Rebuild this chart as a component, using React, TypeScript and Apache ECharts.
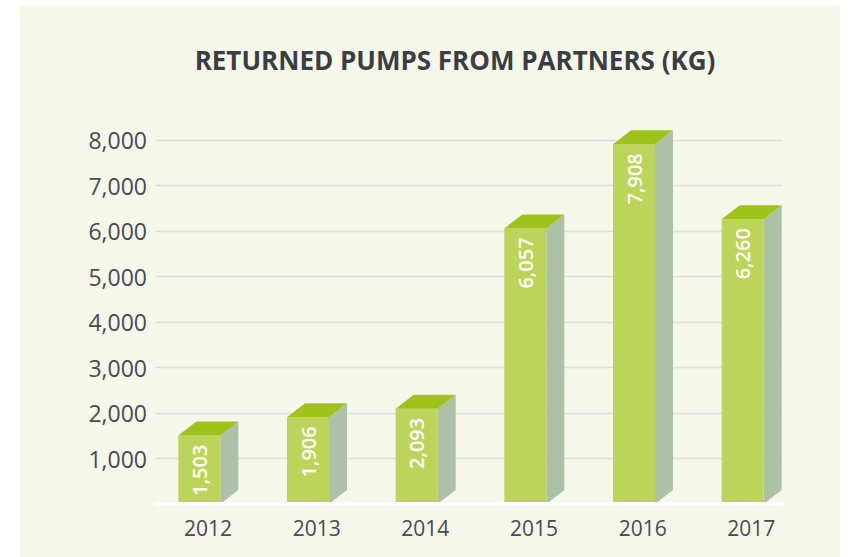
import React, { useEffect, useRef } from "react";
import * as echarts from "echarts";

const categories: string[] = ["2012", "2013", "2014", "2015", "2016", "2017"];
const values: number[] = [1503, 1906, 2093, 6057, 7908, 6260];
const titleText = "RETURNED PUMPS FROM PARTNERS (KG)";
const yMin = 0;
const yMax = 8000;
const yInterval = 1000;

const W = 849;
const H = 557;

export default function App() {
  const ref = useRef<HTMLDivElement>(null);
  useEffect(() => {
    document.body.style.margin = "0";
    const chart = echarts.init(ref.current!, null, { renderer: "svg" });
    const frontW = 42;
    const dx = 18;
    const dy = 14;
    const option: any = {
      animation: false,
      backgroundColor: "#ffffff",
      graphic: [
        {
          type: "rect",
          z: -1,
          silent: true,
          shape: { x: 20, y: 6, width: 820, height: 551 },
          style: { fill: "#f5f8e9" },
        },
        {
          type: "text",
          z: 5,
          x: 455,
          y: 60,
          style: {
            text: titleText,
            align: "center",
            verticalAlign: "middle",
            fontFamily: "Open Sans",
            fontWeight: "bold",
            fontSize: 26,
            fill: "#3b3d45",
          },
        },
      ],
      grid: [
        { left: 145, right: 52, top: 140, bottom: 53 },
        { left: 153.7, right: 43.3, top: 140, bottom: 53 },
        { left: 156, right: 67, top: 140, bottom: 53 },
      ],
      xAxis: [
        { gridIndex: 0, type: "category", data: categories, show: false },
        {
          gridIndex: 1,
          type: "category",
          data: categories,
          axisLine: { show: false },
          axisTick: { show: false },
          splitLine: { show: false },
          axisLabel: {
            fontFamily: "Open Sans",
            fontSize: 21,
            color: "#474a57",
            margin: 13,
          },
        },
        {
          gridIndex: 2,
          type: "value",
          min: 0,
          max: 1,
          z: 10,
          axisLine: { show: true, onZero: false, lineStyle: { color: "#ffffff", width: 4 } },
          axisTick: { show: false },
          axisLabel: { show: false },
          splitLine: { show: false },
        },
      ],
      yAxis: [
        { gridIndex: 0, type: "value", min: yMin, max: yMax, show: false },
        { gridIndex: 1, type: "value", min: yMin, max: yMax, show: false },
        {
          gridIndex: 2,
          type: "value",
          min: yMin,
          max: yMax,
          interval: yInterval,
          axisLine: { show: false },
          axisTick: { show: false },
          splitLine: { lineStyle: { color: "#dcdce3", width: 1.3 } },
          axisLabel: {
            margin: 9,
            fontFamily: "Open Sans",
            fontSize: 23,
            color: "#474a57",
            formatter: (v: number) => (v === 0 ? "" : v.toLocaleString("en-US")),
          },
        },
      ],
      series: [
        {
          type: "custom",
          xAxisIndex: 0,
          yAxisIndex: 0,
          data: values.map((v, i) => [i, v]),
          renderItem: (params: any, api: any) => {
            const top = api.coord([api.value(0), api.value(1)]);
            const base = api.coord([api.value(0), 0]);
            const cx = top[0];
            const ty = top[1];
            const by = base[1];
            const l = cx - frontW / 2;
            const r = cx + frontW / 2;
            const val = api.value(1) as number;
            return {
              type: "group",
              children: [
                {
                  type: "polygon",
                  shape: {
                    points: [
                      [r, ty],
                      [r + dx, ty - dy],
                      [r + dx, by - dy],
                      [r, by],
                    ],
                  },
                  style: { fill: "#adc1a9" },
                },
                {
                  type: "rect",
                  shape: { x: l, y: ty, width: frontW, height: by - ty },
                  style: { fill: "#bdd45b" },
                },
                {
                  type: "polygon",
                  shape: {
                    points: [
                      [l, ty],
                      [l + dx, ty - dy],
                      [r + dx, ty - dy],
                      [r, ty],
                    ],
                  },
                  style: { fill: "#9fc31b" },
                },
                {
                  type: "text",
                  x: cx,
                  y: ty + 9,
                  rotation: Math.PI / 2,
                  style: {
                    text: val.toLocaleString("en-US"),
                    align: "right",
                    verticalAlign: "middle",
                    fontFamily: "Open Sans",
                    fontWeight: 600,
                    fontSize: 20,
                    fill: "#ffffff",
                  },
                },
              ],
            };
          },
        },
      ],
    };
    chart.setOption(option);
    return () => chart.dispose();
  }, []);
  return <div ref={ref} style={{ width: W, height: H }} />;
}
